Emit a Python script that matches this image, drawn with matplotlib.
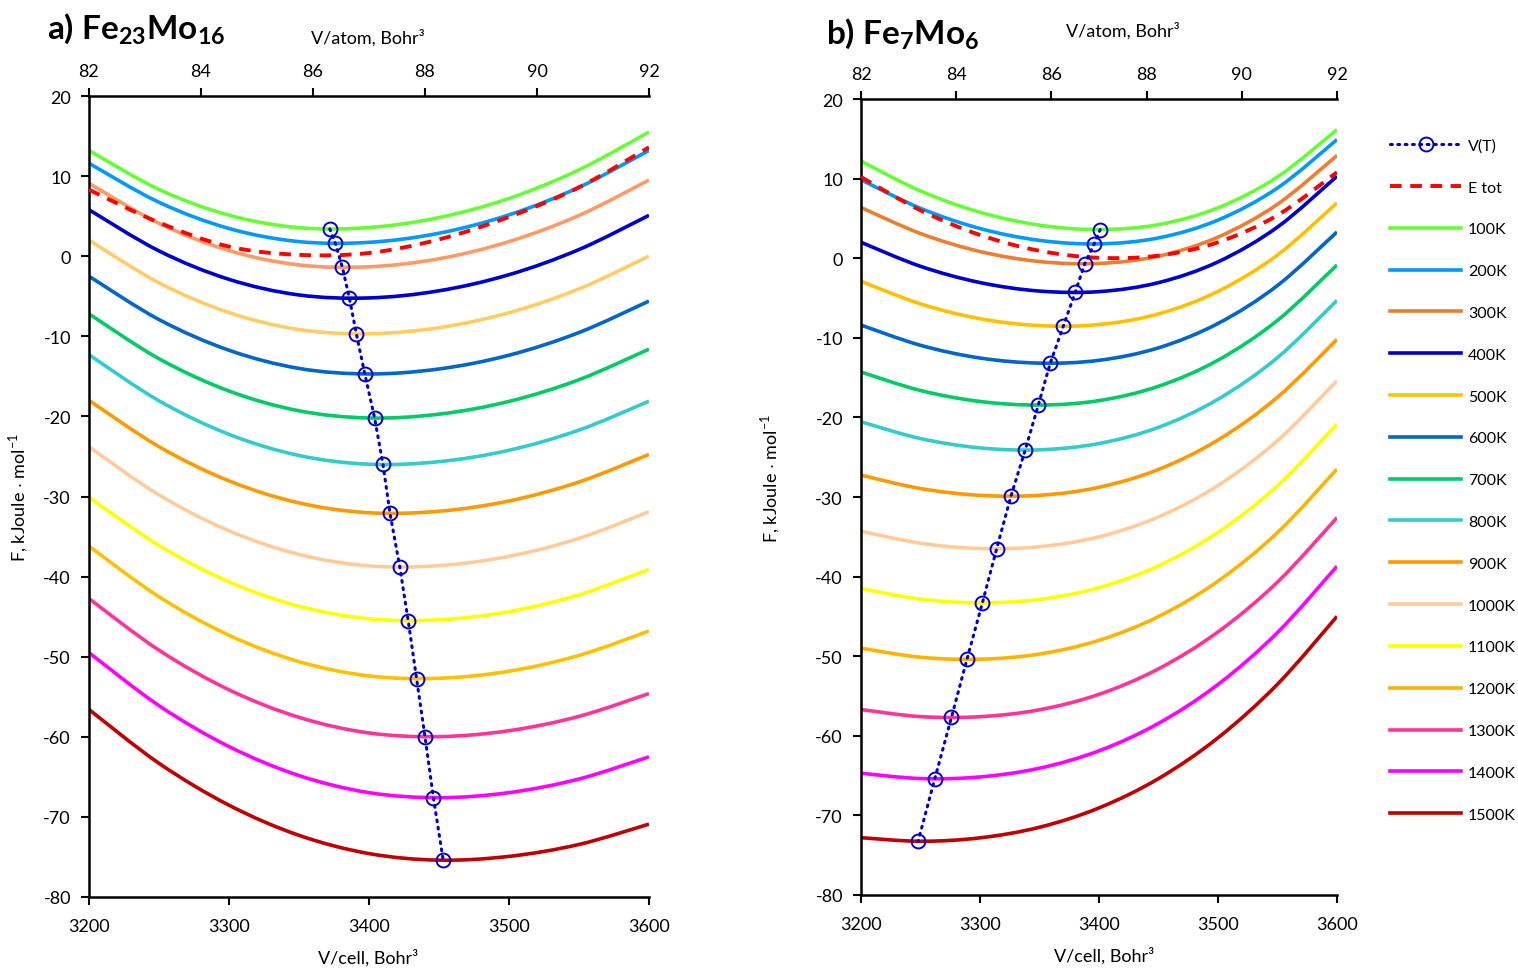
import numpy as np
import matplotlib
matplotlib.use('Agg')
import matplotlib.pyplot as plt
from matplotlib.lines import Line2D
from matplotlib.path import Path
from matplotlib.patches import PathPatch

plt.rcParams['font.family'] = ['Lato', 'DejaVu Sans']
plt.rcParams['mathtext.fontset'] = 'custom'
plt.rcParams['mathtext.rm'] = 'Lato'
plt.rcParams['mathtext.bf'] = 'Lato:bold'
plt.rcParams['axes.unicode_minus'] = False

# объём ячейки, Bohr^3
V = [3200, 3250, 3300, 3350, 3400, 3450, 3500, 3550, 3600]
temps = ['100K', '200K', '300K', '400K', '500K', '600K', '700K', '800K',
         '900K', '1000K', '1100K', '1200K', '1300K', '1400K', '1500K']

# a) Fe23Mo16, F (kJ/mol) на сетке V
F_a = [
    [13.2, 8.33, 5.12, 3.56, 3.58, 4.82, 7.21, 10.78, 15.5],
    [11.6, 6.73, 3.46, 1.82, 1.73, 2.87, 5.16, 8.6, 13.2],
    [9.1, 4.10, 0.70, -1.09, -1.32, -0.32, 1.82, 5.09, 9.5],
    [5.8, 0.66, -2.89, -4.84, -5.21, -4.32, -2.31, 0.83, 5.1],
    [2.0, -3.32, -7.04, -9.16, -9.68, -8.93, -7.06, -4.08, 0.0],
    [-2.5, -7.91, -11.74, -14.01, -14.70, -14.08, -12.36, -9.53, -5.6],
    [-7.2, -12.80, -16.83, -19.30, -20.20, -19.72, -18.13, -15.42, -11.6],
    [-12.3, -18.05, -22.24, -24.88, -25.97, -25.65, -24.23, -21.71, -18.1],
    [-18.0, -23.78, -28.05, -30.80, -32.03, -31.84, -30.56, -28.19, -24.75],
    [-23.8, -29.80, -34.28, -37.23, -38.66, -38.63, -37.47, -35.23, -31.9],
    [-30.1, -36.11, -40.65, -43.70, -45.27, -45.40, -44.38, -42.28, -39.1],
    [-36.2, -42.52, -47.32, -50.62, -52.40, -52.69, -51.81, -49.84, -46.8],
    [-42.75, -49.19, -54.13, -57.57, -59.52, -59.98, -59.24, -57.45, -54.6],
    [-49.5, -56.11, -61.22, -64.84, -66.97, -67.60, -66.97, -65.27, -62.5],
    [-56.6, -63.31, -68.54, -72.30, -74.58, -75.40, -74.93, -73.44, -70.9],
]
Etot_a = [8.3, 4.2, 1.2, 0.17, 0.4, 2.1, 4.9, 8.6, 13.6]
Vmin_a = [3372, 3376, 3381, 3386, 3391, 3397, 3404, 3410, 3415, 3422,
          3428, 3434, 3440, 3446, 3453]
Fmin_a = [3.4, 1.6, -1.4, -5.25, -9.7, -14.7, -20.2, -26.0, -32.1, -38.8,
          -45.5, -52.75, -60.0, -67.6, -75.4]

# b) Fe7Mo6
F_b = [
    [12.2, 8.45, 5.77, 4.15, 3.60, 4.22, 6.33, 10.21, 16.15],
    [9.85, 6.27, 3.73, 2.24, 1.80, 2.55, 4.79, 8.82, 14.9],
    [6.37, 3.10, 0.84, -0.42, -0.66, 0.26, 2.65, 6.78, 12.9],
    [2.0, -1.02, -3.06, -4.13, -4.20, -3.07, -0.46, 3.91, 10.3],
    [-2.9, -5.74, -7.60, -8.47, -8.34, -7.00, -4.17, 0.40, 6.95],
    [-8.4, -10.94, -12.54, -13.18, -12.83, -11.26, -8.20, -3.43, 3.3],
    [-14.3, -16.62, -18.00, -18.45, -17.89, -16.09, -12.81, -7.81, -0.85],
    [-20.55, -22.66, -23.83, -24.07, -23.28, -21.25, -17.72, -12.49, -5.3],
    [-27.25, -28.94, -29.79, -29.79, -28.78, -26.54, -22.84, -17.47, -10.2],
    [-34.3, -35.81, -36.47, -36.25, -35.00, -32.51, -28.55, -22.92, -15.4],
    [-41.5, -42.83, -43.30, -42.87, -41.39, -38.65, -34.45, -28.59, -20.85],
    [-49.0, -50.13, -50.38, -49.73, -48.01, -45.02, -40.57, -34.47, -26.5],
    [-56.7, -57.59, -57.60, -56.73, -54.79, -51.59, -46.95, -40.69, -32.6],
    [-64.7, -65.37, -65.17, -64.07, -61.89, -58.44, -53.55, -47.03, -38.7],
    [-72.8, -73.25, -72.82, -71.49, -69.06, -65.38, -60.25, -53.52, -45.0],
]
Etot_b = [10.2, 6.01, 2.92, 0.93, 0.05, 0.32, 2.00, 5.40, 10.8]
Vmin_b = [3401, 3396, 3388, 3380, 3370, 3359, 3349, 3338, 3326, 3314,
          3302, 3289, 3276, 3262, 3248]
Fmin_b = [3.6, 1.8, -0.7, -4.3, -8.55, -13.2, -18.45, -24.1, -29.9, -36.5,
          -43.3, -50.4, -57.7, -65.4, -73.25]

colors_a = ['#66FF33', '#0099FF', '#FF9966', '#0000CC', '#FFCC66', '#0066CC',
            '#00CC66', '#33CCCC', '#FF9900', '#FFCC99', '#FFFF00', '#FFC000',
            '#FF3399', '#FF00FF', '#C00000']
colors_b = ['#66FF33', '#0099FF', '#ED7D31', '#0000CC', '#FFC000', '#0066CC',
            '#00CC66', '#33CCCC', '#FF9900', '#FFCC99', '#FFFF00', '#FFB300',
            '#FF3399', '#FF00FF', '#C00000']

VT_STYLE = dict(color='#0000CC', lw=2.2, ls=(0, (0.6, 1.8)),
                dash_capstyle='round', marker='o', ms=10, mfc='none',
                mec='#0000CC', mew=1.4)
ETOT_STYLE = dict(color='#FF0000', lw=2.8, ls=(0, (3, 2.2)))


def smooth_path(x, y):
    # сглаженная линия как в Excel (кривые Безье через точки)
    p = np.column_stack([x, y]).astype(float)
    verts = [p[0]]
    codes = [Path.MOVETO]
    n = len(p)
    for i in range(n - 1):
        p0 = p[i - 1] if i > 0 else p[i]
        p3 = p[i + 2] if i + 2 < n else p[i + 1]
        verts += [p[i] + (p[i + 1] - p0) / 6, p[i + 1] - (p3 - p[i]) / 6, p[i + 1]]
        codes += [Path.CURVE4] * 3
    return Path(verts, codes)


fig = plt.figure(figsize=(15.18, 9.70), dpi=100)
ax_a = fig.add_axes([89/1518, 1 - 898/970, 560/1518, 801/970])
ax_b = fig.add_axes([861/1518, 1 - 896/970, 476/1518, 796/970])


def draw_panel(ax, F, Etot, Vmin, Fmin, colors):
    for row, c in zip(F, colors):
        ax.add_patch(PathPatch(smooth_path(V, row), fill=False, edgecolor=c,
                               lw=2.6, capstyle='butt'))
    ax.add_patch(PathPatch(smooth_path(V, Etot), fill=False,
                           edgecolor=ETOT_STYLE['color'], lw=ETOT_STYLE['lw'],
                           ls=ETOT_STYLE['ls'], zorder=3))
    ax.plot(Vmin, Fmin, zorder=5, **VT_STYLE)
    ax.set_xlim(3200, 3600)
    ax.set_ylim(-80, 20)
    ax.set_xticks(range(3200, 3601, 100))
    ax.set_yticks(range(-80, 21, 10))
    ax.spines['right'].set_visible(False)
    ax.spines['top'].set_visible(False)
    for s in ['left', 'bottom']:
        ax.spines[s].set_linewidth(1.8)
    ax.tick_params(width=1.5, length=6, labelsize=13, top=False, right=False)
    ax.tick_params(axis='x', pad=9)
    ax.tick_params(axis='y', pad=7)
    ax.set_xlabel('V/cell, Bohr³', fontsize=13)
    ax.set_ylabel(r'F, kJoule $\cdot$ mol$^{-1}$', fontsize=13)
    top = ax.twiny()
    top.set_xlim(82, 92)
    top.set_xticks(range(82, 93, 2))
    for s in ['left', 'right', 'bottom']:
        top.spines[s].set_visible(False)
    top.spines['top'].set_linewidth(1.8)
    top.tick_params(width=1.5, length=6, labelsize=13, pad=6, bottom=False)
    return top


top_a = draw_panel(ax_a, F_a, Etot_a, Vmin_a, Fmin_a, colors_a)
top_b = draw_panel(ax_b, F_b, Etot_b, Vmin_b, Fmin_b, colors_b)

ax_a.yaxis.set_label_coords(-0.105, 0.50)
ax_b.yaxis.set_label_coords(-0.166, 0.524)
ax_a.xaxis.set_label_coords(0.498, -0.064)
ax_b.xaxis.set_label_coords(0.51, -0.065)

fig.text(368/1518, 1 - 38/970, 'V/atom, Bohr³', fontsize=13, ha='center', va='center')
fig.text(1123/1518, 1 - 31/970, 'V/atom, Bohr³', fontsize=13, ha='center', va='center')
fig.text(47/1518, 1 - 29/970, r'a) Fe$_\mathbf{23}$Mo$_\mathbf{16}$', fontsize=24,
         fontweight='bold', ha='left', va='center')
fig.text(826/1518, 1 - 34/970, r'b) Fe$_\mathbf{7}$Mo$_\mathbf{6}$', fontsize=24,
         fontweight='bold', ha='left', va='center')

handles = [Line2D([], [], **VT_STYLE),
           Line2D([], [], color=ETOT_STYLE['color'], lw=ETOT_STYLE['lw'],
                  ls=ETOT_STYLE['ls'])]
for c in colors_b:
    handles.append(Line2D([], [], color=c, lw=2.6))
labels = ['V(T)', 'E tot'] + temps
fig.legend(handles, labels, loc='upper left', numpoints=1,
           bbox_to_anchor=(1384/1518, 1 - 133/970), frameon=False,
           fontsize=11.5, handlelength=4.4, handletextpad=0.45,
           labelspacing=1.73, borderaxespad=0)

plt.savefig('out.png', dpi=100)
